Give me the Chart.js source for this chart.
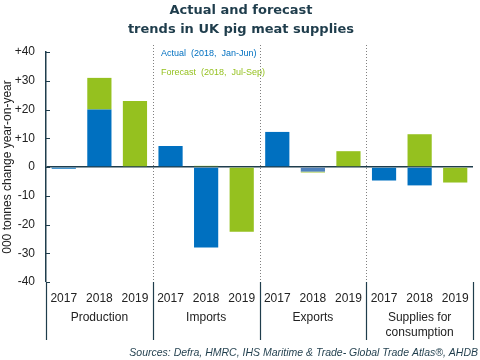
<!DOCTYPE html>
<html>
<head>
<meta charset="utf-8">
<script src="https://cdn.jsdelivr.net/npm/chart.js@4.4.0/dist/chart.umd.min.js"></script>
<style>
  html, body { margin: 0; padding: 0; background: #fff; }
  #wrap { width: 480px; height: 360px; position: relative; }
</style>
</head>
<body>
<div id="wrap"><canvas id="chart" width="480" height="360"></canvas></div>
<script>
// Data
const years = ['2017', '2018', '2019', '2017', '2018', '2019', '2017', '2018', '2019', '2017', '2018', '2019'];
const groups = [['Production'], ['Imports'], ['Exports'], ['Supplies for', 'consumption']];
const actual = [-0.6, 20, null, 7.3, -28, null, 12.2, -1.6, null, -4.7, -6.4, null];
const forecast = [null, 11, 23, null, 0.4, -22.5, null, -0.3, 5.5, null, 11.4, -5.4];
const yTicks = [40, 30, 20, 10, 0, -10, -20, -30, -40];

const BLUE = '#0070C0';
const GREEN = '#95C11F';
const DARK = '#1F3D4C';

// lighter blue on the small exports 2018 bar, as in the picture
const actualColors = actual.map((v, i) => i === 7 ? '#4F81BD' : BLUE);

// Draws title, legend text, tick marks, group separators and labels
const decorations = {
  id: 'decorations',
  afterDraw(chart) {
    const ctx = chart.ctx;
    const area = chart.chartArea;
    const x = chart.scales.x;
    const y = chart.scales.y;
    const step = (area.right - area.left) / years.length;

    ctx.save();
    // title
    ctx.fillStyle = DARK;
    ctx.font = 'bold 13px "DejaVu Sans", sans-serif';
    ctx.textAlign = 'center';
    ctx.textBaseline = 'middle';
    ctx.fillText('Actual and forecast', 241, 11);
    ctx.fillText('trends in UK pig meat supplies', 241, 30);

    // tick marks on the inner side of the y axis
    ctx.strokeStyle = DARK;
    ctx.lineWidth = 1;
    yTicks.forEach(v => {
      const py = Math.round(y.getPixelForValue(v)) + 0.5;
      ctx.beginPath();
      ctx.moveTo(area.left, py);
      ctx.lineTo(area.left + 4, py);
      ctx.stroke();
    });

    // dotted separators inside plot
    ctx.strokeStyle = '#808080';
    ctx.setLineDash([1, 2]);
    for (let g = 1; g < groups.length; g++) {
      const px = Math.round(area.left + g * 3 * step) + 0.5;
      ctx.beginPath();
      ctx.moveTo(px, 45);
      ctx.lineTo(px, area.bottom);
      ctx.stroke();
    }
    ctx.setLineDash([]);

    // solid separators below plot
    ctx.strokeStyle = DARK;
    ctx.lineWidth = 1.2;
    for (let g = 0; g <= groups.length; g++) {
      const px = Math.round(area.left + g * 3 * step) + 0.5;
      ctx.beginPath();
      ctx.moveTo(px, area.bottom);
      ctx.lineTo(px, 340);
      ctx.stroke();
    }

    // group labels
    ctx.fillStyle = '#222';
    ctx.font = '12px "Liberation Sans", Arial, sans-serif';
    groups.forEach((lines, g) => {
      const cx = (x.getPixelForValue(g * 3) + x.getPixelForValue(g * 3 + 2)) / 2;
      lines.forEach((t, k) => ctx.fillText(t, cx, 318 + k * 15));
    });

    // in-plot legend
    ctx.textAlign = 'left';
    ctx.font = '9px "Liberation Sans", Arial, sans-serif';
    ctx.fillStyle = BLUE;
    ctx.fillText('Actual  (2018,  Jan-Jun)', 161, 54);
    ctx.fillStyle = GREEN;
    ctx.fillText('Forecast  (2018,  Jul-Sep)', 161, 73);

    // source
    ctx.textAlign = 'right';
    ctx.fillStyle = DARK;
    ctx.font = 'italic 10.5px "Liberation Sans", Arial, sans-serif';
    ctx.fillText('Sources: Defra, HMRC, IHS Maritime & Trade- Global Trade Atlas\u00AE, AHDB', 478, 353);
    ctx.restore();
  }
};

new Chart(document.getElementById('chart'), {
  type: 'bar',
  data: {
    labels: years,
    datasets: [
      { label: 'Actual', data: actual, backgroundColor: actualColors, barPercentage: 0.68, categoryPercentage: 1 },
      { label: 'Forecast', data: forecast, backgroundColor: GREEN, barPercentage: 0.68, categoryPercentage: 1 }
    ]
  },
  options: {
    responsive: false,
    animation: false,
    layout: { padding: { top: 52, right: 7, bottom: 0, left: 0 } },
    plugins: {
      legend: { display: false },
      title: { display: false },
      tooltip: { enabled: false }
    },
    scales: {
      x: {
        stacked: true,
        grid: { display: false },
        border: { display: false },
        ticks: {
          color: '#222',
          font: { family: '"Liberation Sans", Arial, sans-serif', size: 12 },
          padding: 1,
          maxRotation: 0,
          autoSkip: false
        },
        afterFit(scale) { scale.height = 78; }
      },
      y: {
        stacked: true,
        min: -40,
        max: 40,
        afterBuildTicks(scale) { scale.ticks = yTicks.map(v => ({ value: v })); },
        afterFit(scale) { scale.width = 46; },
        border: { display: true, color: DARK, width: 1.5 },
        grid: {
          drawOnChartArea: true,
          drawTicks: false,
          color: c => c.tick && c.tick.value === 0 ? DARK : 'rgba(0,0,0,0)',
          lineWidth: c => c.tick && c.tick.value === 0 ? 1.5 : 0
        },
        ticks: {
          color: '#222',
          font: { family: '"Liberation Sans", Arial, sans-serif', size: 12 },
          padding: 11,
          callback: v => v > 0 ? '+' + v : String(v)
        },
        title: {
          display: true,
          text: '000 tonnes change year-on-year',
          color: '#222',
          font: { family: '"Liberation Sans", Arial, sans-serif', size: 12 },
          padding: { top: 0, bottom: 0 }
        }
      }
    }
  },
  plugins: [decorations]
});
</script>
</body>
</html>
